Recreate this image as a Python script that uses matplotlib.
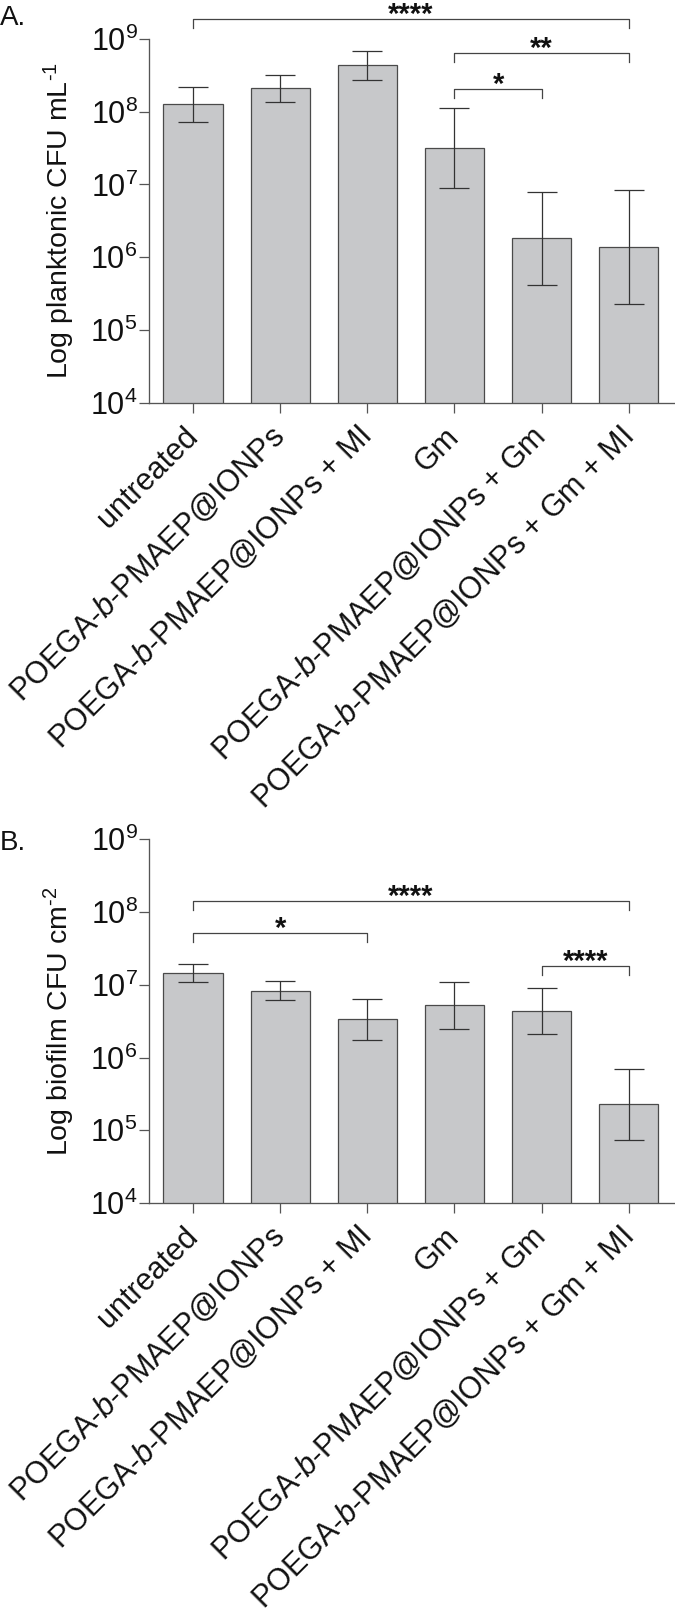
import matplotlib
matplotlib.use('Agg')
import matplotlib.pyplot as plt
import numpy as np
from matplotlib.ticker import NullLocator, FixedLocator
from matplotlib.transforms import offset_copy, ScaledTranslation

plt.rcParams['font.family'] = ['Liberation Sans', 'DejaVu Sans']
plt.rcParams['mathtext.fontset'] = 'custom'
plt.rcParams['mathtext.rm'] = 'Liberation Sans'
plt.rcParams['mathtext.it'] = 'Liberation Sans:italic'
plt.rcParams['mathtext.bf'] = 'Liberation Sans:bold'

# ---------------- data ----------------
categories = [
    'untreated',
    'POEGA-$\\mathit{b}$-PMAEP@IONPs',
    'POEGA-$\\mathit{b}$-PMAEP@IONPs + MI',
    'Gm',
    'POEGA-$\\mathit{b}$-PMAEP@IONPs + Gm',
    'POEGA-$\\mathit{b}$-PMAEP@IONPs + Gm + MI',
]

planktonic_mean = [1.27e8, 2.1e8, 4.35e8, 3.15e7, 1.83e6, 1.39e6]
planktonic_upper = [2.2e8, 3.2e8, 6.8e8, 1.12e8, 7.8e6, 8.5e6]
planktonic_lower = [7.3e7, 1.35e8, 2.7e8, 8.8e6, 4.2e5, 2.27e5]

biofilm_mean = [1.46e7, 8.3e6, 3.37e6, 5.2e6, 4.33e6, 2.29e5]
biofilm_upper = [1.95e7, 1.11e7, 6.4e6, 1.09e7, 8.9e6, 6.9e5]
biofilm_lower = [1.09e7, 6.2e6, 1.73e6, 2.48e6, 2.12e6, 7.4e4]

# significance brackets: (group a, group b, label, bracket level)
planktonic_sig = [(0, 5, '****', 1.86e9), (3, 5, '**', 6.46e8), (3, 4, '*', 2.06e8)]
biofilm_sig = [(0, 5, '****', 1.44e8), (0, 2, '*', 5.1e7), (4, 5, '****', 1.82e7)]

ytick_exponents = [4, 5, 6, 7, 8, 9]

# ---------------- style ----------------
BAR_FC = '#c7c8ca'
BAR_EC = '#4a4a4a'
AX_C = '#555555'
ERR_C = '#333333'
FS = 22

W, H = 675, 1613
fig = plt.figure(figsize=(W / 100, H / 100), dpi=100)

left = 149 / W
width = (W - 149) / W
axA = fig.add_axes([left, 1 - 403 / H, width, (403 - 38.7) / H])
axB = fig.add_axes([left, 1 - 1203 / H, width, (1203 - 839.3) / H])


def draw(ax, mean, lower, upper, sig, ylabel):
    x = np.arange(len(categories))
    mean = np.array(mean)
    yerr = [mean - np.array(lower), np.array(upper) - mean]
    ax.set_yscale('log')
    ax.bar(x, mean, width=0.68, color=BAR_FC, edgecolor=BAR_EC, linewidth=0.9, zorder=2)
    ax.errorbar(x, mean, yerr=yerr, fmt='none', ecolor=ERR_C, elinewidth=0.9,
                capsize=10.5, capthick=0.9, zorder=3)
    ax.set_ylim(1e4, 1e9)
    ax.set_xlim(-0.505, 5.53)
    ax.yaxis.set_major_locator(FixedLocator([10.0 ** k for k in ytick_exponents]))
    ax.yaxis.set_minor_locator(NullLocator())
    ax.set_yticklabels([r'$\mathregular{10^{%d}}$' % k for k in ytick_exponents], fontsize=FS)
    ax.set_xticks(x)
    ax.set_xticklabels(categories, rotation=45, ha='right', va='center',
                       rotation_mode='anchor', fontsize=FS)
    shift = ScaledTranslation(3 / 100, 0, fig.dpi_scale_trans)
    for lab in ax.get_xticklabels():
        lab.set_transform(lab.get_transform() + shift)
    ax.tick_params(axis='both', direction='out', length=7.2, width=0.9, color=AX_C,
                   labelcolor='#111111')
    ax.tick_params(axis='y', pad=1)
    ax.tick_params(axis='x', pad=14)
    for s in ['top', 'right']:
        ax.spines[s].set_visible(False)
    for s in ['left', 'bottom']:
        ax.spines[s].set_color(AX_C)
        ax.spines[s].set_linewidth(0.95)
    ax.set_ylabel(ylabel, fontsize=20.5, color='#111111')
    ax.yaxis.set_label_coords(-0.137, 0.5)

    drop = 10 ** (9 / 72.8)
    for a, b, lab, h in sig:
        ax.plot([a, a, b, b], [h / drop, h, h, h / drop], color='#444444', lw=0.9,
                clip_on=False, zorder=4)
        tr = offset_copy(ax.transData, fig=fig, x=0, y=-4, units='dots')
        ax.text((a + b) / 2, h, lab, ha='center', va='baseline', fontsize=21,
                fontweight='bold', color='#111111', transform=tr, clip_on=False)


draw(axA, planktonic_mean, planktonic_lower, planktonic_upper, planktonic_sig,
     'Log planktonic CFU mL$^{\\mathregular{\u20101}}$')
draw(axB, biofilm_mean, biofilm_lower, biofilm_upper, biofilm_sig,
     'Log biofilm CFU cm$^{\\mathregular{\u20102}}$')

fig.text(0.0, 1 - 25 / H, 'A.', fontsize=20, va='baseline', ha='left', color='#111111')
fig.text(0.0, 1 - 850 / H, 'B.', fontsize=20, va='baseline', ha='left', color='#111111')

fig.savefig('out.png', dpi=100, facecolor='white')
